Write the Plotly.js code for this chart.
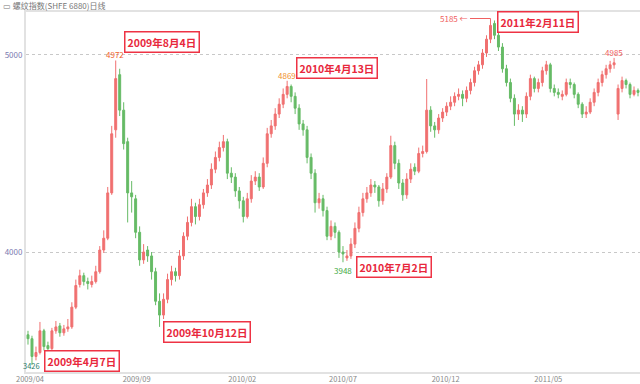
<!DOCTYPE html>
<html>
<head>
<meta charset="utf-8">
<script src="https://cdn.plot.ly/plotly-3.0.1.min.js"></script>
<style>html,body{margin:0;padding:0;background:#fff;}#chart{width:640px;height:384px;}</style>
</head>
<body>
<div id="chart"></div>
<script>
// Candle values (each candle ≈ 4 trading days)
const openP = [3580,3560,3470,3490,3600,3525,3510,3600,3625,3590,3610,3620,3720,3835,3880,3850,3835,3850,3900,4010,
4070,4300,4620,4900,4720,4560,4300,4270,4100,3960,4010,3980,3900,3750,3680,3760,3860,3900,3880,3980,
4080,4150,4230,4180,4240,4300,4340,4420,4480,4530,4560,4400,4380,4310,4260,4180,4270,4360,4380,4330,
4450,4600,4640,4700,4750,4800,4840,4790,4730,4650,4620,4480,4400,4250,4270,4210,4080,4130,4100,4000,
3970,3980,4040,4120,4200,4270,4300,4340,4330,4260,4320,4380,4540,4450,4350,4290,4370,4430,4410,4500,
4510,4720,4640,4620,4680,4710,4740,4760,4790,4800,4780,4820,4860,4920,4950,5010,5080,5160,5100,5040,
4930,4860,4780,4700,4720,4700,4790,4880,4830,4860,4920,4950,4830,4810,4790,4800,4860,4850,4800,4750,
4700,4710,4760,4810,4860,4900,4930,4950,4700,4830,4870,4850,4800,4820];
const highP = [3600,3575,3520,3645,3610,3545,3615,3650,3640,3630,3660,3745,3860,3910,3895,3870,3880,3930,4030,4110,
4330,4640,4972,4930,4760,4580,4360,4290,4130,4040,4030,4000,3920,3790,3790,3890,3930,3920,4010,4100,
4180,4270,4250,4270,4320,4370,4450,4510,4560,4594,4575,4430,4400,4330,4280,4300,4390,4410,4400,4480,
4630,4670,4730,4780,4830,4869,4850,4810,4750,4670,4640,4500,4420,4300,4290,4230,4160,4150,4110,4030,
4010,4070,4150,4230,4300,4330,4370,4360,4340,4350,4400,4590,4560,4470,4370,4400,4450,4450,4530,4540,
4878,4740,4660,4700,4730,4760,4790,4810,4830,4820,4840,4880,4940,4970,5030,5100,5185,5175,5120,5060,
4950,4880,4800,4750,4740,4810,4900,4890,4880,4940,4970,4960,4850,4830,4820,4880,4880,4860,4810,4760,
4740,4780,4830,4880,4920,4950,4970,4985,4850,4890,4880,4860,4840,4830];
const lowP = [3530,3426,3450,3480,3500,3490,3500,3585,3570,3575,3595,3610,3710,3820,3830,3810,3820,3840,3890,3995,
4060,4290,4580,4690,4520,4150,4200,4070,3930,3940,3950,3860,3730,3620,3660,3740,3830,3850,3860,3960,
4060,4130,4140,4160,4220,4280,4320,4400,4460,4510,4370,4350,4280,4220,4150,4170,4250,4340,4310,4320,
4430,4580,4620,4680,4730,4780,4760,4700,4620,4590,4450,4370,4200,4220,4180,4060,4060,4070,3970,3948,
3955,3965,4020,4100,4180,4250,4280,4300,4230,4240,4300,4370,4420,4320,4260,4270,4350,4390,4400,4480,
4500,4610,4580,4600,4660,4690,4720,4740,4770,4740,4760,4800,4840,4900,4930,4990,5060,5080,5020,4910,
4840,4760,4640,4670,4660,4680,4770,4810,4810,4840,4900,4810,4790,4780,4770,4790,4830,4780,4730,4680,
4680,4700,4740,4790,4840,4880,4910,4930,4670,4810,4830,4780,4790,4790];
const closeP = [3560,3470,3490,3600,3520,3510,3600,3620,3590,3610,3620,3720,3830,3880,3850,3840,3850,3900,4010,4070,
4300,4600,4880,4720,4550,4300,4280,4100,3960,4000,3980,3900,3750,3680,3760,3860,3900,3880,3980,4080,
4150,4230,4180,4240,4300,4340,4420,4480,4530,4560,4400,4380,4310,4260,4180,4270,4360,4380,4330,4450,
4600,4640,4700,4750,4800,4840,4790,4730,4650,4620,4480,4400,4250,4270,4210,4080,4130,4100,4000,3990,
3980,4040,4120,4200,4270,4300,4340,4330,4260,4320,4380,4540,4450,4350,4290,4370,4420,4410,4500,4510,
4720,4640,4620,4680,4710,4740,4760,4790,4800,4780,4820,4860,4920,4950,5010,5080,5150,5100,5040,4930,
4860,4780,4700,4720,4700,4790,4880,4830,4860,4920,4950,4830,4810,4800,4800,4860,4850,4800,4750,4700,
4710,4760,4810,4860,4900,4930,4950,4960,4830,4870,4850,4800,4820,4810];

// Axis ticks (candle index where each month label sits)
const tickPos = [0.5, 27.25, 53.75, 79, 104.75, 130.5];
const tickLabels = ['2009/04','2009/09','2010/02','2010/07','2010/12','2011/05'];

// Marked extremes
const extremeIdx = [22, 65, 79, 116, 147, 1];
const extremeVal = [4972, 4869, 3948, 5185, 4985, 3426];

// Date callouts
const calloutIdx = [33.5, 13.5, 45, 77.4, 91.75, 128];
const calloutVal = [5066, 3447, 3594, 4934, 3924, 5168];
const calloutText = ['2009年8月4日','2009年4月7日','2009年10月12日','2010年4月13日','2010年7月2日','2011年2月11日'];

const xs = closeP.map((_, i) => i);

const trace = {
  type: 'candlestick',
  x: xs, open: openP, high: highP, low: lowP, close: closeP,
  increasing: {line: {color: '#f07070', width: 1}, fillcolor: '#f07070'},
  decreasing: {line: {color: '#66bb66', width: 1}, fillcolor: '#66bb66'},
  whiskerwidth: 0,
  hoverinfo: 'skip',
  showlegend: false
};

const CJK = '"Noto Sans CJK SC", "Noto Sans", sans-serif';
const annotations = [];

// date callouts
calloutIdx.forEach((xi, k) => {
  annotations.push({x: xi, y: calloutVal[k], xref: 'x', yref: 'y', text: '<b>' + calloutText[k] + '</b>',
    showarrow: false, bgcolor: '#ffffff', bordercolor: '#ee3344', borderwidth: 1.5, borderpad: 2,
    font: {family: CJK, size: 10.5, color: '#e8283c'}});
});

// value labels (drawn above callouts)
const labColors = ['#f0602a', '#f0902a', '#44aa44', '#f06060', '#f06060', '#2c7c6c'];
extremeIdx.forEach((xi, k) => {
  if (k === 3) {
    annotations.push({x: xi, y: extremeVal[k], xref: 'x', yref: 'y', text: extremeVal[k] + ' ←',
      showarrow: true, arrowhead: 0, arrowwidth: 1, arrowcolor: '#f06060', ax: -36, ay: 0,
      font: {family: CJK, size: 8, color: labColors[k]}});
  } else if (k === 5) {
    annotations.push({x: xi, y: extremeVal[k], xref: 'x', yref: 'y', text: String(extremeVal[k]),
      showarrow: false, yanchor: 'top', yshift: 7,
      font: {family: CJK, size: 7.5, color: labColors[k]}});
  } else if (k === 2) {
    annotations.push({x: xi, y: extremeVal[k], xref: 'x', yref: 'y', text: String(extremeVal[k]),
      showarrow: false, yanchor: 'top', yshift: -1,
      font: {family: CJK, size: 8, color: labColors[k]}});
  } else {
    annotations.push({x: xi, y: extremeVal[k], xref: 'x', yref: 'y', text: String(extremeVal[k]),
      showarrow: false, yanchor: 'bottom', yshift: -2, xshift: k === 0 ? -1 : 0,
      font: {family: CJK, size: 8, color: labColors[k]}});
  }
});

// header
annotations.push({xref: 'paper', yref: 'paper', x: -0.04, y: 1.017, xanchor: 'left', yanchor: 'middle',
  text: '▭ 螺纹指数(SHFE 6880)日线', showarrow: false, font: {family: CJK, size: 8, color: '#777777'}});

const layout = {
  width: 640, height: 384,
  margin: {l: 26, r: 0, t: 12, b: 12, pad: 0},
  paper_bgcolor: '#ffffff', plot_bgcolor: '#ffffff',
  showlegend: false,
  hovermode: false,
  xaxis: {
    type: 'linear', range: [-0.5, closeP.length - 0.5],
    rangeslider: {visible: false},
    tickmode: 'array', tickvals: tickPos, ticktext: tickLabels,
    showgrid: false, zeroline: false,
    showline: true, linecolor: '#e2e2e2', linewidth: 2, mirror: true,
    ticks: '', ticklen: 0, ticklabelstandoff: -1, tickfont: {family: CJK, size: 7.5, color: '#888888'},
    automargin: false
  },
  yaxis: {
    range: [3391, 5218],
    tickmode: 'array', tickvals: [4000, 5000], ticktext: ['4000', '5000'],
    showgrid: true, gridcolor: '#c8c8c8', griddash: 'dot', gridwidth: 1,
    zeroline: false, showline: true, linecolor: '#e2e2e2', linewidth: 2,
    ticks: '', tickfont: {family: CJK, size: 8, color: '#7a7ab0'},
    automargin: false
  },
  annotations: annotations
};

Plotly.newPlot('chart', [trace], layout, {displayModeBar: false, staticPlot: true});
</script>
</body>
</html>
